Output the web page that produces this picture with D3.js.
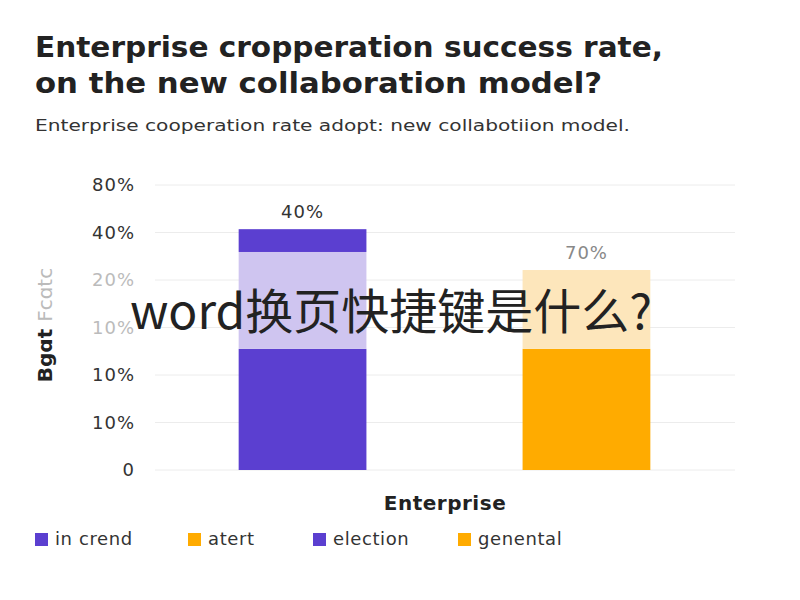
<!DOCTYPE html>
<html>
<head>
<meta charset="utf-8">
<script src="https://cdn.jsdelivr.net/npm/d3@7"></script>
<style>
  body { margin: 0; background: #fff; }
  text { font-family: "DejaVu Sans", sans-serif; }
</style>
</head>
<body>
<div id="chart"></div>
<script>
// tick labels as printed on the picture (they are not monotonic)
var tickValues = [0, 10, 20, 30, 40, 50, 60];
var tickLabels = ["0", "10%", "10%", "10%", "20%", "40%", "80%"];
var tickShade = ["#333", "#333", "#333", "#bbb", "#bbb", "#333", "#333"];

var categories = ["A", "B"];
// stacked segments: base, light middle, dark top
var baseValues = [25.5, 25.5];
var midValues = [20.4, 16.6];
var topValues = [4.8, 0];
var barLabels = ["40%", "70%"];
var barLabelColor = ["#333", "#888"];
var darkColors = ["#5b3fd0", "#ffab00"];
var lightColors = ["#cfc5f0", "#fde6bb"];

var legendNames = ["in crend", "atert", "election", "genental"];
var legendColors = ["#5b3fd0", "#ffab00", "#5b3fd0", "#ffab00"];
var legendX = [35, 188, 313, 458];

var width = 800, height = 600;

var svg = d3.select("#chart").append("svg")
  .attr("width", width)
  .attr("height", height);

// titles
svg.append("text")
  .attr("x", 35).attr("y", 57)
  .style("font-size", "28px").style("font-weight", "bold").style("fill", "#222")
  .attr("textLength", 628).attr("lengthAdjust", "spacingAndGlyphs")
  .text("Enterprise cropperation success rate,");
svg.append("text")
  .attr("x", 35).attr("y", 93)
  .style("font-size", "28px").style("font-weight", "bold").style("fill", "#222")
  .attr("textLength", 567).attr("lengthAdjust", "spacingAndGlyphs")
  .text("on the new collaboration model?");
svg.append("text")
  .attr("x", 35).attr("y", 131)
  .style("font-size", "16px").style("fill", "#333")
  .attr("textLength", 595).attr("lengthAdjust", "spacingAndGlyphs")
  .text("Enterprise cooperation rate adopt: new collabotiion model.");

var y = d3.scaleLinear().domain([0, 60]).range([470, 185]);
var x = d3.scaleBand().domain(categories).range([162, 727]).paddingInner(0.55).paddingOuter(0.27);

// gridlines
svg.append("g")
  .selectAll("line")
  .data(tickValues)
  .enter().append("line")
  .attr("x1", 155).attr("x2", 735)
  .attr("y1", function(d) { return y(d); })
  .attr("y2", function(d) { return y(d); })
  .style("stroke", "#ececec").style("stroke-width", 1);

// y axis labels
var yAxis = d3.axisLeft(y)
  .tickValues(tickValues)
  .tickSize(0)
  .tickPadding(0)
  .tickFormat(function(d, i) { return tickLabels[i]; });

var yg = svg.append("g")
  .attr("transform", "translate(135,0)")
  .call(yAxis);
yg.select(".domain").remove();
yg.selectAll("text")
  .style("font-size", "18px")
  .style("letter-spacing", "1px")
  .style("font-family", "'DejaVu Sans', sans-serif")
  .style("fill", function(d, i) { return tickShade[i]; });

// y axis title
var yt = svg.append("text")
  .attr("transform", "translate(52,325) rotate(-90)")
  .attr("text-anchor", "middle")
  .style("font-size", "20px").style("font-weight", "bold");
yt.append("tspan").style("fill", "#222").text("Bgɑt ");
yt.append("tspan").style("fill", "#bbb").style("font-weight", "normal").text("Fcɑtc");

// bars
var bars = svg.append("g");
categories.forEach(function(c, i) {
  var b = baseValues[i], m = midValues[i], t = topValues[i];
  bars.append("rect")
    .attr("x", x(c)).attr("width", x.bandwidth())
    .attr("y", y(b)).attr("height", y(0) - y(b))
    .style("fill", darkColors[i]);
  bars.append("rect")
    .attr("x", x(c)).attr("width", x.bandwidth())
    .attr("y", y(b + m)).attr("height", y(b) - y(b + m))
    .style("fill", lightColors[i]);
  if (t > 0) {
    bars.append("rect")
      .attr("x", x(c)).attr("width", x.bandwidth())
      .attr("y", y(b + m + t)).attr("height", y(b + m) - y(b + m + t))
      .style("fill", darkColors[i]);
  }
  bars.append("text")
    .attr("x", x(c) + x.bandwidth() / 2)
    .attr("y", y(b + m + t) - 11)
    .attr("text-anchor", "middle")
    .style("font-size", "18px")
    .style("letter-spacing", "1px")
    .style("fill", barLabelColor[i])
    .text(barLabels[i]);
});

// x axis title
svg.append("text")
  .attr("x", 445).attr("y", 510)
  .attr("text-anchor", "middle")
  .style("font-size", "20px").style("font-weight", "bold").style("fill", "#222")
  .style("letter-spacing", "0.5px")
  .text("Enterprise");

// legend
var lg = svg.append("g").selectAll("g")
  .data(legendNames)
  .enter().append("g")
  .attr("transform", function(d, i) { return "translate(" + legendX[i] + ",533)"; });
lg.append("rect")
  .attr("width", 13).attr("height", 13)
  .style("fill", function(d, i) { return legendColors[i]; });
lg.append("text")
  .attr("x", 20).attr("y", 12)
  .style("font-size", "18px").style("fill", "#333")
  .style("letter-spacing", "0.6px")
  .text(function(d) { return d; });

// overlay caption
svg.append("text")
  .attr("x", 391).attr("y", 329)
  .attr("text-anchor", "middle")
  .style("font-family", "'Noto Sans CJK SC', sans-serif")
  .style("font-size", "48px").style("fill", "#222")
  .text("word换页快捷键是什么?");
</script>
</body>
</html>
